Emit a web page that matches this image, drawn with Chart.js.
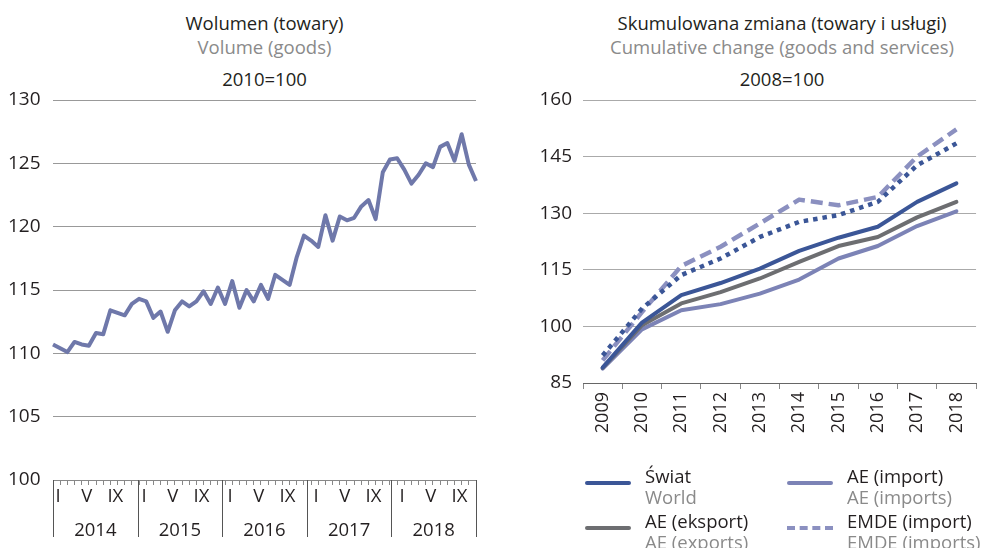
<!DOCTYPE html>
<html>
<head>
<meta charset="utf-8">
<script src="https://cdn.jsdelivr.net/npm/chart.js@4.4.0/dist/chart.umd.min.js"></script>
<style>
    body { margin: 0; width: 982px; height: 548px; overflow: hidden; background: #fff; position: relative; font-family: 'Open Sans', sans-serif; color: #231f20; }
    .title { position: absolute; top: 11px; text-align: center; font-size: 18.5px; line-height: 24px; }
    .title .en { color: #8a8a8a; }
    .title .base { margin-top: 8px; }
    .box { position: absolute; top: 0; }
    .item { position: absolute; font-size: 18.5px; line-height: 21px; }
    .item .en { color: #8a8a8a; }
    .item .swatch { position: absolute; left: -60px; top: 16px; width: 46px; height: 0; }
</style>
</head>
<body>

<div class="title" style="left:53px;width:423px">Wolumen (towary)<br><span class="en">Volume (goods)</span><div class="base">2010=100</div></div>
<div class="title" style="left:583px;width:398px">Skumulowana zmiana (towary i usługi)<br><span class="en">Cumulative change (goods and services)</span><div class="base">2008=100</div></div>

<div class="box" style="left:0"><canvas id="volumeChart" width="490" height="548"></canvas></div>
<div class="box" style="left:490px"><canvas id="cumulChart" width="491" height="548"></canvas></div>

<div id="legend"></div>

<script>
// Left panel: monthly trade volume, 2010=100
const years = ['2014', '2015', '2016', '2017', '2018'];
const monthMarks = ['I', '', '', '', 'V', '', '', '', 'IX', '', '', ''];
const volume = [
    110.7, 110.4, 110.1, 110.9, 110.7, 110.6, 111.6, 111.5, 113.4, 113.2, 113.0, 113.9,
    114.3, 114.1, 112.8, 113.3, 111.7, 113.4, 114.1, 113.7, 114.1, 114.9, 113.9, 115.2,
    113.9, 115.7, 113.6, 115.0, 114.1, 115.4, 114.3, 116.2, 115.8, 115.4, 117.6, 119.3,
    118.9, 118.4, 120.9, 118.9, 120.8, 120.5, 120.7, 121.6, 122.1, 120.6, 124.3, 125.3,
    125.4, 124.5, 123.4, 124.1, 125.0, 124.7, 126.3, 126.6, 125.2, 127.3, 124.9, 123.6
];
const volumeTicks = [100, 105, 110, 115, 120, 125, 130];

// Right panel: cumulative change, 2008=100
const cumYears = ['2009', '2010', '2011', '2012', '2013', '2014', '2015', '2016', '2017', '2018'];
const world = [89.1, 101.0, 108.3, 111.5, 115.3, 120.0, 123.5, 126.4, 133.0, 137.9];
const aeExports = [89.0, 100.3, 106.1, 109.1, 112.7, 117.1, 121.3, 123.7, 128.9, 133.0];
const aeImports = [88.8, 99.2, 104.3, 105.9, 108.7, 112.4, 118.0, 121.3, 126.6, 130.5];
const emdeImports = [91.0, 103.8, 116.0, 121.1, 127.3, 133.6, 132.1, 134.3, 145.0, 152.2];
const emdeExports = [92.3, 104.7, 113.6, 118.0, 123.7, 127.7, 129.5, 133.0, 142.7, 148.5];
const cumTicks = [85, 100, 115, 130, 145, 160];

const FONT = "'Open Sans', sans-serif";
const INK = '#231f20';

// month category labels like 2014-1 ... 2018-12
const monthLabels = [];
years.forEach(y => monthMarks.forEach((m, i) => monthLabels.push(y + '-' + (i + 1))));

// Long vertical lines between years under the left chart
const yearSeparators = {
    id: 'yearSeparators',
    afterDraw(chart) {
        const xs = chart.scales.x2;
        const ctx = chart.ctx;
        ctx.save();
        ctx.strokeStyle = '#555';
        ctx.lineWidth = 1;
        for (let k = 0; k <= years.length; k++) {
            const px = Math.round(xs.left + k * xs.width / years.length) + 0.5;
            ctx.beginPath();
            ctx.moveTo(px, chart.chartArea.bottom);
            ctx.lineTo(px, xs.bottom - 8);
            ctx.stroke();
        }
        ctx.restore();
    }
};

new Chart(document.getElementById('volumeChart').getContext('2d'), {
    type: 'line',
    data: {
        labels: monthLabels,
        datasets: [{
            data: volume,
            borderColor: '#6f78aa',
            borderWidth: 4,
            pointRadius: 0,
            tension: 0,
            borderJoinStyle: 'round'
        }]
    },
    plugins: [yearSeparators],
    options: {
        responsive: false,
        animation: false,
        layout: { padding: { top: 100, left: 8, right: 14, bottom: 3 } },
        plugins: { legend: { display: false }, tooltip: { enabled: false } },
        scales: {
            y: {
                min: 100,
                max: 130,
                afterBuildTicks: s => { s.ticks = volumeTicks.map(v => ({ value: v })); },
                afterFit: s => { s.width = 45; },
                border: { display: false },
                grid: { color: '#999', drawTicks: false },
                ticks: { crossAlign: 'far', color: INK, font: { family: FONT, size: 19 } }
            },
            x: {
                offset: false,
                afterFit: s => { s.height = 30; },
                border: { color: '#888' },
                grid: { drawOnChartArea: false, tickLength: 5, color: '#888' },
                ticks: {
                    autoSkip: false,
                    maxRotation: 0,
                    padding: 1,
                    labelOffset: 5,
                    color: INK,
                    font: { family: FONT, size: 18.5 },
                    callback: (v, i) => monthMarks[i % 12]
                }
            },
            x2: {
                type: 'category',
                labels: years,
                offset: true,
                position: 'bottom',
                afterFit: s => { s.height = 35; },
                border: { display: false },
                grid: { display: false },
                ticks: { padding: 2, color: INK, font: { family: FONT, size: 18.5 } }
            }
        }
    }
});

new Chart(document.getElementById('cumulChart').getContext('2d'), {
    type: 'line',
    data: {
        labels: cumYears,
        datasets: [
            { label: 'EMDE (eksport)', data: emdeExports, borderColor: '#3b5697', borderWidth: 4.5, borderDash: [4.5, 5], borderCapStyle: 'butt', order: 1 },
            { label: 'EMDE (import)', data: emdeImports, borderColor: '#8b90c0', borderWidth: 4.5, borderDash: [12, 6], borderCapStyle: 'butt', order: 2 },
            { label: 'Świat', data: world, borderColor: '#3b5697', borderWidth: 4, borderCapStyle: 'round', order: 3 },
            { label: 'AE (eksport)', data: aeExports, borderColor: '#6d6e71', borderWidth: 4, borderCapStyle: 'round', order: 4 },
            { label: 'AE (import)', data: aeImports, borderColor: '#7c83b6', borderWidth: 4, borderCapStyle: 'round', order: 5 }
        ].map(d => Object.assign({ pointRadius: 0, tension: 0, borderJoinStyle: 'round' }, d))
    },
    options: {
        responsive: false,
        animation: false,
        layout: { padding: { top: 100, left: 0, right: 0, bottom: 0 } },
        plugins: { legend: { display: false }, tooltip: { enabled: false } },
        scales: {
            y: {
                min: 85,
                max: 160,
                afterBuildTicks: s => { s.ticks = cumTicks.map(v => ({ value: v })); },
                afterFit: s => { s.width = 93; },
                border: { display: false },
                grid: { color: '#aaa', drawTicks: false },
                ticks: { padding: 11, color: INK, font: { family: FONT, size: 19 } }
            },
            x: {
                offset: true,
                afterFit: s => { s.height = 165; },
                border: { color: '#666' },
                grid: { offset: true, drawOnChartArea: false, tickLength: 6, color: '#888' },
                ticks: {
                    autoSkip: false,
                    minRotation: 90,
                    maxRotation: 90,
                    padding: 3,
                    color: INK,
                    font: { family: FONT, size: 18 }
                }
            }
        }
    }
});

// Legend below the right chart (two columns, last row falls off the page)
const legendItems = [
    { pl: 'Świat', en: 'World', color: '#3b5697', dash: null, left: 645, top: 465 },
    { pl: 'AE (import)', en: 'AE (imports)', color: '#7c83b6', dash: null, left: 847, top: 465 },
    { pl: 'AE (eksport)', en: 'AE (exports)', color: '#6d6e71', dash: null, left: 645, top: 510 },
    { pl: 'EMDE (import)', en: 'EMDE (imports)', color: '#8b90c0', dash: 'dashed', left: 847, top: 510 },
    { pl: 'EMDE (eksport)', en: 'EMDE (exports)', color: '#3b5697', dash: 'dotted', left: 645, top: 556 }
];
const legend = document.getElementById('legend');
legendItems.forEach(it => {
    const div = document.createElement('div');
    div.className = 'item';
    div.style.left = it.left + 'px';
    div.style.top = it.top + 'px';
    div.innerHTML = it.pl + '<br><span class="en">' + it.en + '</span>';
    const sw = document.createElement('span');
    sw.className = 'swatch';
    sw.style.borderTop = '4px ' + (it.dash || 'solid') + ' ' + it.color;
    if (!it.dash) sw.style.borderRadius = '2px';
    div.appendChild(sw);
    legend.appendChild(div);
});
</script>
</body>
</html>
